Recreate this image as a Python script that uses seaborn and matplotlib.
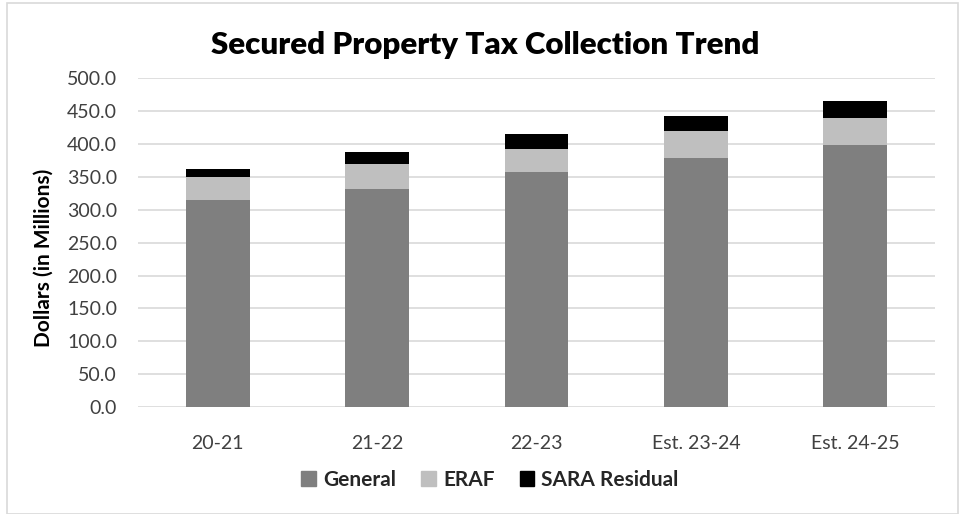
import seaborn as sns
import matplotlib.pyplot as plt
import numpy as np
from matplotlib.patches import Rectangle, Patch
from matplotlib.ticker import FuncFormatter

# values (millions of dollars)
years = ["20-21", "21-22", "22-23", "Est. 23-24", "Est. 24-25"]
general = [315, 331, 357, 379, 399]
eraf = [34, 38, 36, 40, 40]
sara = [13, 19, 22, 24, 26]

sns.set_theme(style="white")
plt.rcParams['font.family'] = ['Lato', 'DejaVu Sans']

fig = plt.figure(figsize=(9.61, 5.14), dpi=100)
ax = fig.add_axes([0.1436, 0.208, 0.8294, 0.640])

# stacked bars: draw the running totals from the top down
top1 = np.array(general)
top2 = top1 + np.array(eraf)
top3 = top2 + np.array(sara)
sns.barplot(x=years, y=top3, color="#000000", width=0.4, ax=ax, saturation=1, linewidth=0)
sns.barplot(x=years, y=top2, color="#BFBFBF", width=0.4, ax=ax, saturation=1, linewidth=0)
sns.barplot(x=years, y=top1, color="#7F7F7F", width=0.4, ax=ax, saturation=1, linewidth=0)

ax.set_ylim(0, 500)
ax.set_xlim(-0.5, 4.5)
ax.set_yticks(np.arange(0, 501, 50))
ax.yaxis.set_major_formatter(FuncFormatter(lambda v, p: f"{v:.1f}"))
ax.grid(axis="y", color="#D9D9D9", linewidth=1.2)
ax.set_axisbelow(True)
for s in ax.spines.values():
    s.set_visible(False)
ax.tick_params(axis="both", length=0, labelsize=14, colors="#404040")
ax.tick_params(axis="x", pad=20)
ax.tick_params(axis="y", pad=15)
ax.set_ylabel("Dollars (in Millions)", fontsize=15, fontweight="bold", color="#000000")
ax.yaxis.set_label_coords(-0.106, 0.453)
ax.set_xlabel("")

fig.text(0.505, 0.913, "Secured Property Tax Collection Trend", ha="center", va="center",
         fontsize=22.5, fontweight="heavy", color="#000000")

handles = [Patch(color="#7F7F7F", label="General"),
           Patch(color="#BFBFBF", label="ERAF"),
           Patch(color="#000000", label="SARA Residual")]
leg = fig.legend(handles=handles, loc="center", bbox_to_anchor=(0.51, 0.066), ncol=3, frameon=False,
                 prop={"size": 15, "weight": "bold"}, handlelength=0.7, handleheight=0.7,
                 handletextpad=0.35, columnspacing=1.2)

fig.patches.append(Rectangle((0.007, 0.0), 0.99, 0.994, transform=fig.transFigure, fill=False,
                             edgecolor="#D9D9D9", linewidth=1.2))

fig.savefig("out.png", dpi=100)
